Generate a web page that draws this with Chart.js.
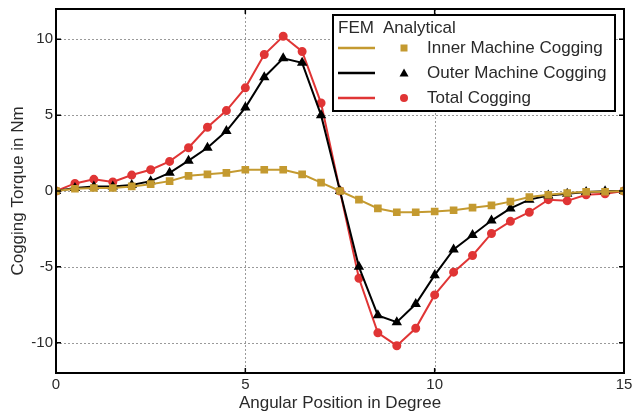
<!DOCTYPE html>
<html><head><meta charset="utf-8">
<script src="https://cdn.jsdelivr.net/npm/chart.js@4/dist/chart.umd.min.js"></script>
<style>html,body{margin:0;padding:0;background:#fff}#wrap{width:633px;height:414px}</style>
</head><body><div id="wrap"><canvas id="c" width="633" height="414"></canvas></div>
<script>
const angles = [0,0.5,1,1.5,2,2.5,3,3.5,4,4.5,5,5.5,6,6.5,7,7.5,8,8.5,9,9.5,10,10.5,11,11.5,12,12.5,13,13.5,14,14.5,15];
const innerCogging = [0,0.15,0.2,0.2,0.3,0.45,0.65,1.0,1.1,1.2,1.4,1.4,1.4,1.1,0.55,0,-0.57,-1.15,-1.4,-1.4,-1.35,-1.27,-1.1,-0.95,-0.7,-0.4,-0.25,-0.13,-0.05,-0.05,0];
const outerCogging = [0,0.2,0.3,0.3,0.4,0.65,1.2,2.0,2.85,3.95,5.5,7.5,8.75,8.45,5.0,0,-5.0,-8.2,-8.65,-7.45,-5.55,-3.85,-2.9,-1.95,-1.15,-0.57,-0.3,-0.18,-0.07,-0.02,0];
const totalCogging = [0,0.5,0.77,0.6,1.05,1.4,1.95,2.85,4.2,5.3,6.8,9.0,10.2,9.2,5.8,0,-5.75,-9.35,-10.2,-9.05,-6.85,-5.35,-4.25,-2.8,-2.0,-1.4,-0.57,-0.65,-0.25,-0.18,0];
const seriesNames = ["Inner Machine Cogging","Outer Machine Cogging","Total Cogging"];
const xTicks = [0,5,10,15];
const yTicks = [-10,-5,0,5,10];

const GOLD = '#c49a30', BLACK = '#000000', RED = '#e03535';
const FONT = '"Liberation Sans", Arial, sans-serif';
const TXT = '#2a2a2a';

function pts(vals){ return angles.map((a,i)=>({x:a,y:vals[i]})); }

const overlay = {
  id:'overlay',
  beforeDatasetsDraw(chart){
    const {ctx, chartArea:a, scales:{x,y}} = chart;
    ctx.save();
    ctx.strokeStyle = '#9a9a9a'; ctx.lineWidth = 1; ctx.setLineDash([2,2]);
    xTicks.forEach(v=>{ if(v<=0||v>=15) return; const px=Math.round(x.getPixelForValue(v))+0.5; ctx.beginPath(); ctx.moveTo(px,a.top); ctx.lineTo(px,a.bottom); ctx.stroke(); });
    yTicks.forEach(v=>{ const py=Math.round(y.getPixelForValue(v))+0.5; ctx.beginPath(); ctx.moveTo(a.left,py); ctx.lineTo(a.right,py); ctx.stroke(); });
    ctx.restore();
  },
  afterDraw(chart){
    const {ctx, chartArea:a, scales:{x,y}} = chart;
    ctx.save();
    ctx.strokeStyle = '#000'; ctx.lineWidth = 2; ctx.setLineDash([]);
    ctx.strokeRect(a.left, a.top, a.right-a.left, a.bottom-a.top);
    ctx.lineWidth = 1.5;
    const tl = 5;
    xTicks.forEach(v=>{ const px=x.getPixelForValue(v); ctx.beginPath(); ctx.moveTo(px,a.bottom); ctx.lineTo(px,a.bottom-tl); ctx.moveTo(px,a.top); ctx.lineTo(px,a.top+tl); ctx.stroke(); });
    yTicks.forEach(v=>{ const py=y.getPixelForValue(v); ctx.beginPath(); ctx.moveTo(a.left,py); ctx.lineTo(a.left+tl,py); ctx.moveTo(a.right,py); ctx.lineTo(a.right-tl,py); ctx.stroke(); });

    // legend
    const L = {x:333, y:15, w:282, h:96};
    ctx.fillStyle = '#fff'; ctx.fillRect(L.x, L.y, L.w, L.h);
    ctx.lineWidth = 2; ctx.strokeStyle = '#000'; ctx.strokeRect(L.x, L.y, L.w, L.h);
    ctx.fillStyle = TXT; ctx.font = '17px ' + FONT; ctx.textBaseline = 'middle'; ctx.textAlign = 'left';
    ctx.fillText('FEM', 338, 28);
    ctx.fillText('Analytical', 383, 28);
    const rows = [48, 73, 98];
    chart.data.datasets.forEach((ds,i)=>{
      const yy = rows[i];
      ctx.strokeStyle = ds.borderColor; ctx.lineWidth = 2.5;
      ctx.beginPath(); ctx.moveTo(338,yy); ctx.lineTo(375,yy); ctx.stroke();
      ctx.fillStyle = ds.pointBackgroundColor;
      const mx = 404;
      if(ds.pointStyle==='rect'){ ctx.fillRect(mx-3.5,yy-3.5,7,7); }
      else if(ds.pointStyle==='triangle'){ ctx.beginPath(); ctx.moveTo(mx,yy-4.5); ctx.lineTo(mx+4.5,yy+3.5); ctx.lineTo(mx-4.5,yy+3.5); ctx.closePath(); ctx.fill(); }
      else { ctx.beginPath(); ctx.arc(mx,yy,4,0,Math.PI*2); ctx.fill(); }
      ctx.fillStyle = TXT; ctx.font = '17px ' + FONT;
      ctx.fillText(ds.label, 427, yy);
    });
    ctx.restore();
  }
};

new Chart(document.getElementById('c'), {
  type:'line',
  data:{ datasets:[
    {label:seriesNames[0], data:pts(innerCogging), borderColor:GOLD, backgroundColor:GOLD, pointBackgroundColor:GOLD, pointBorderColor:GOLD, pointStyle:'rect', pointRadius:4, borderWidth:2},
    {label:seriesNames[1], data:pts(outerCogging), borderColor:BLACK, backgroundColor:BLACK, pointBackgroundColor:BLACK, pointBorderColor:BLACK, pointStyle:'triangle', pointRadius:4, borderWidth:2},
    {label:seriesNames[2], data:pts(totalCogging), borderColor:RED, backgroundColor:RED, pointBackgroundColor:RED, pointBorderColor:RED, pointStyle:'circle', pointRadius:3.5, borderWidth:2}
  ]},
  options:{
    responsive:false, animation:false,
    layout:{padding:{top:9, right:9, left:8, bottom:0}},
    plugins:{legend:{display:false}, tooltip:{enabled:false}},
    elements:{line:{tension:0}},
    scales:{
      x:{type:'linear', min:0, max:15,
        afterBuildTicks(s){ s.ticks = xTicks.map(v=>({value:v})); },
        afterFit(s){ s.height = 41; s.paddingLeft = 0; s.paddingRight = 0; },
        grid:{display:false, drawTicks:false}, border:{display:false},
        ticks:{color:TXT, font:{family:FONT,size:15}, padding:3, maxRotation:0, autoSkip:false},
        title:{display:true, text:'Angular Position in Degree', color:TXT, font:{family:FONT,size:17}, padding:{top:0,bottom:0}}
      },
      y:{type:'linear', min:-12, max:12,
        afterBuildTicks(s){ s.ticks = yTicks.map(v=>({value:v})); },
        afterFit(s){ s.width = 48; s.paddingTop = 0; s.paddingBottom = 0; },
        grid:{display:false, drawTicks:false}, border:{display:false},
        ticks:{color:TXT, font:{family:FONT,size:15}, padding:3, autoSkip:false},
        title:{display:true, text:'Cogging Torque in Nm', color:TXT, font:{family:FONT,size:17}, padding:{top:0,bottom:0}}
      }
    }
  },
  plugins:[overlay]
});
</script></body></html>
